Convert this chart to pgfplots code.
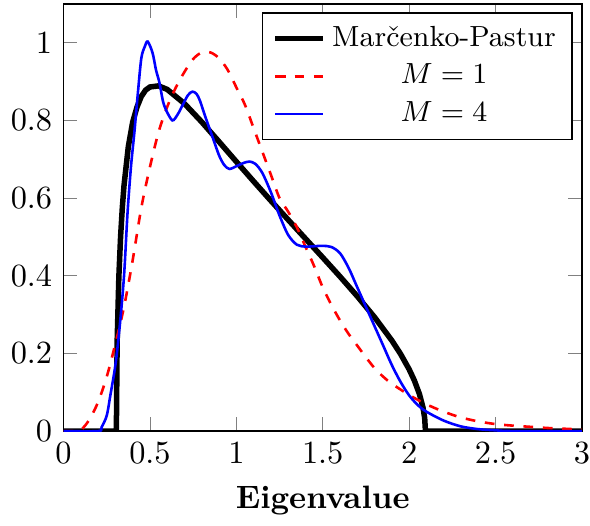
\documentclass[border=0pt]{standalone}
\usepackage{pgfplots}
\pgfplotsset{compat=1.18}
\begin{document}
\begin{tikzpicture}
\begin{axis}[
  scale only axis,
  width=5.63cm, height=4.64cm,
  xmin=0, xmax=3, ymin=0, ymax=1.1,
  xtick={0,0.5,1,1.5,2,2.5,3},
  ytick={0,0.2,0.4,0.6,0.8,1},
  xticklabel style={inner xsep=0pt},
  xlabel={\textbf{Eigenvalue}},
  legend style={at={(0.982,0.98)}, anchor=north east, font=\small},
  legend cell align=center,
  legend image code/.code={\draw[mark repeat=2,mark phase=2,#1] plot coordinates {(0cm,0cm) (0.26cm,0cm) (0.52cm,0cm)};},
]
\addplot[black, line width=1.7pt] coordinates {
(0,0) (0.3,0) (0.3056,0) (0.31,0.2275) (0.32,0.3975) (0.33,0.5004) (0.34,0.5750) (0.35,0.6328)
(0.375,0.733) (0.4,0.7957) (0.425,0.8343) (0.45,0.8617) (0.475,0.8780) (0.5,0.886) (0.55,0.8889) (0.6,0.8797)
(0.7,0.8431) (0.8,0.7958) (0.9,0.745) (1.0,0.6937) (1.1,0.643) (1.2,0.5931)
(1.3,0.5441) (1.4,0.4955) (1.5,0.447) (1.6,0.3979) (1.7,0.3471) (1.8,0.2932)
(1.9,0.2332) (1.95,0.1989) (2.0,0.1591) (2.03,0.1306) (2.06,0.0949) (2.08,0.0612)
(2.09,0.0337) (2.0944,0) (2.1,0) (3,0)
};
\addlegendentry{Mar\v{c}enko-Pastur}
\addplot[red, thick, dashed, smooth] coordinates {
(0,0) (0.05,0) (0.1,0.003) (0.15,0.03) (0.2,0.075) (0.25,0.14) (0.3,0.225)
(0.35,0.32) (0.4,0.44) (0.45,0.575) (0.5,0.68) (0.55,0.77) (0.6,0.835) (0.65,0.885)
(0.7,0.925) (0.75,0.958) (0.8,0.975) (0.85,0.975) (0.9,0.96) (0.95,0.93) (1.0,0.885)
(1.05,0.84) (1.1,0.78) (1.15,0.72) (1.2,0.66) (1.25,0.60) (1.3,0.565) (1.35,0.525)
(1.4,0.475) (1.45,0.425) (1.5,0.37) (1.55,0.325) (1.6,0.285) (1.65,0.25) (1.7,0.22)
(1.75,0.19) (1.8,0.162) (1.85,0.14) (1.9,0.122) (2.0,0.093) (2.1,0.069) (2.2,0.05)
(2.3,0.035) (2.4,0.025) (2.5,0.018) (2.6,0.014) (2.7,0.011) (2.8,0.008) (2.9,0.006)
(3.0,0.004)
};
\addlegendentry{$M=1$}
\addplot[blue, thick, smooth] coordinates {
(0,0) (0.2,0) (0.22,0.01) (0.25,0.04) (0.27,0.09) (0.3,0.17) (0.325,0.27) (0.35,0.4)
(0.37,0.56) (0.39,0.68) (0.41,0.77) (0.43,0.87) (0.45,0.96) (0.47,0.99) (0.487,1.003)
(0.515,0.974) (0.535,0.93) (0.555,0.897) (0.575,0.85) (0.595,0.825) (0.63,0.80)
(0.66,0.815) (0.69,0.84) (0.72,0.865) (0.746,0.874) (0.77,0.868) (0.79,0.85)
(0.82,0.81) (0.86,0.76) (0.9,0.71) (0.93,0.685) (0.96,0.675) (1.0,0.682) (1.04,0.69)
(1.075,0.694) (1.11,0.688) (1.15,0.665) (1.2,0.615) (1.25,0.555) (1.3,0.505)
(1.35,0.48) (1.4,0.475) (1.45,0.476) (1.5,0.477) (1.55,0.474) (1.6,0.458) (1.65,0.42)
(1.7,0.37) (1.75,0.32) (1.8,0.27) (1.85,0.22) (1.9,0.17) (1.95,0.127) (2.0,0.092)
(2.05,0.067) (2.1,0.05) (2.2,0.027) (2.3,0.012) (2.4,0.005) (2.5,0.002) (2.6,0) (3,0)
};
\addlegendentry{$M=4$}
\end{axis}
\path (current axis.north) ++(0,1.2pt);
\end{tikzpicture}
\end{document}
